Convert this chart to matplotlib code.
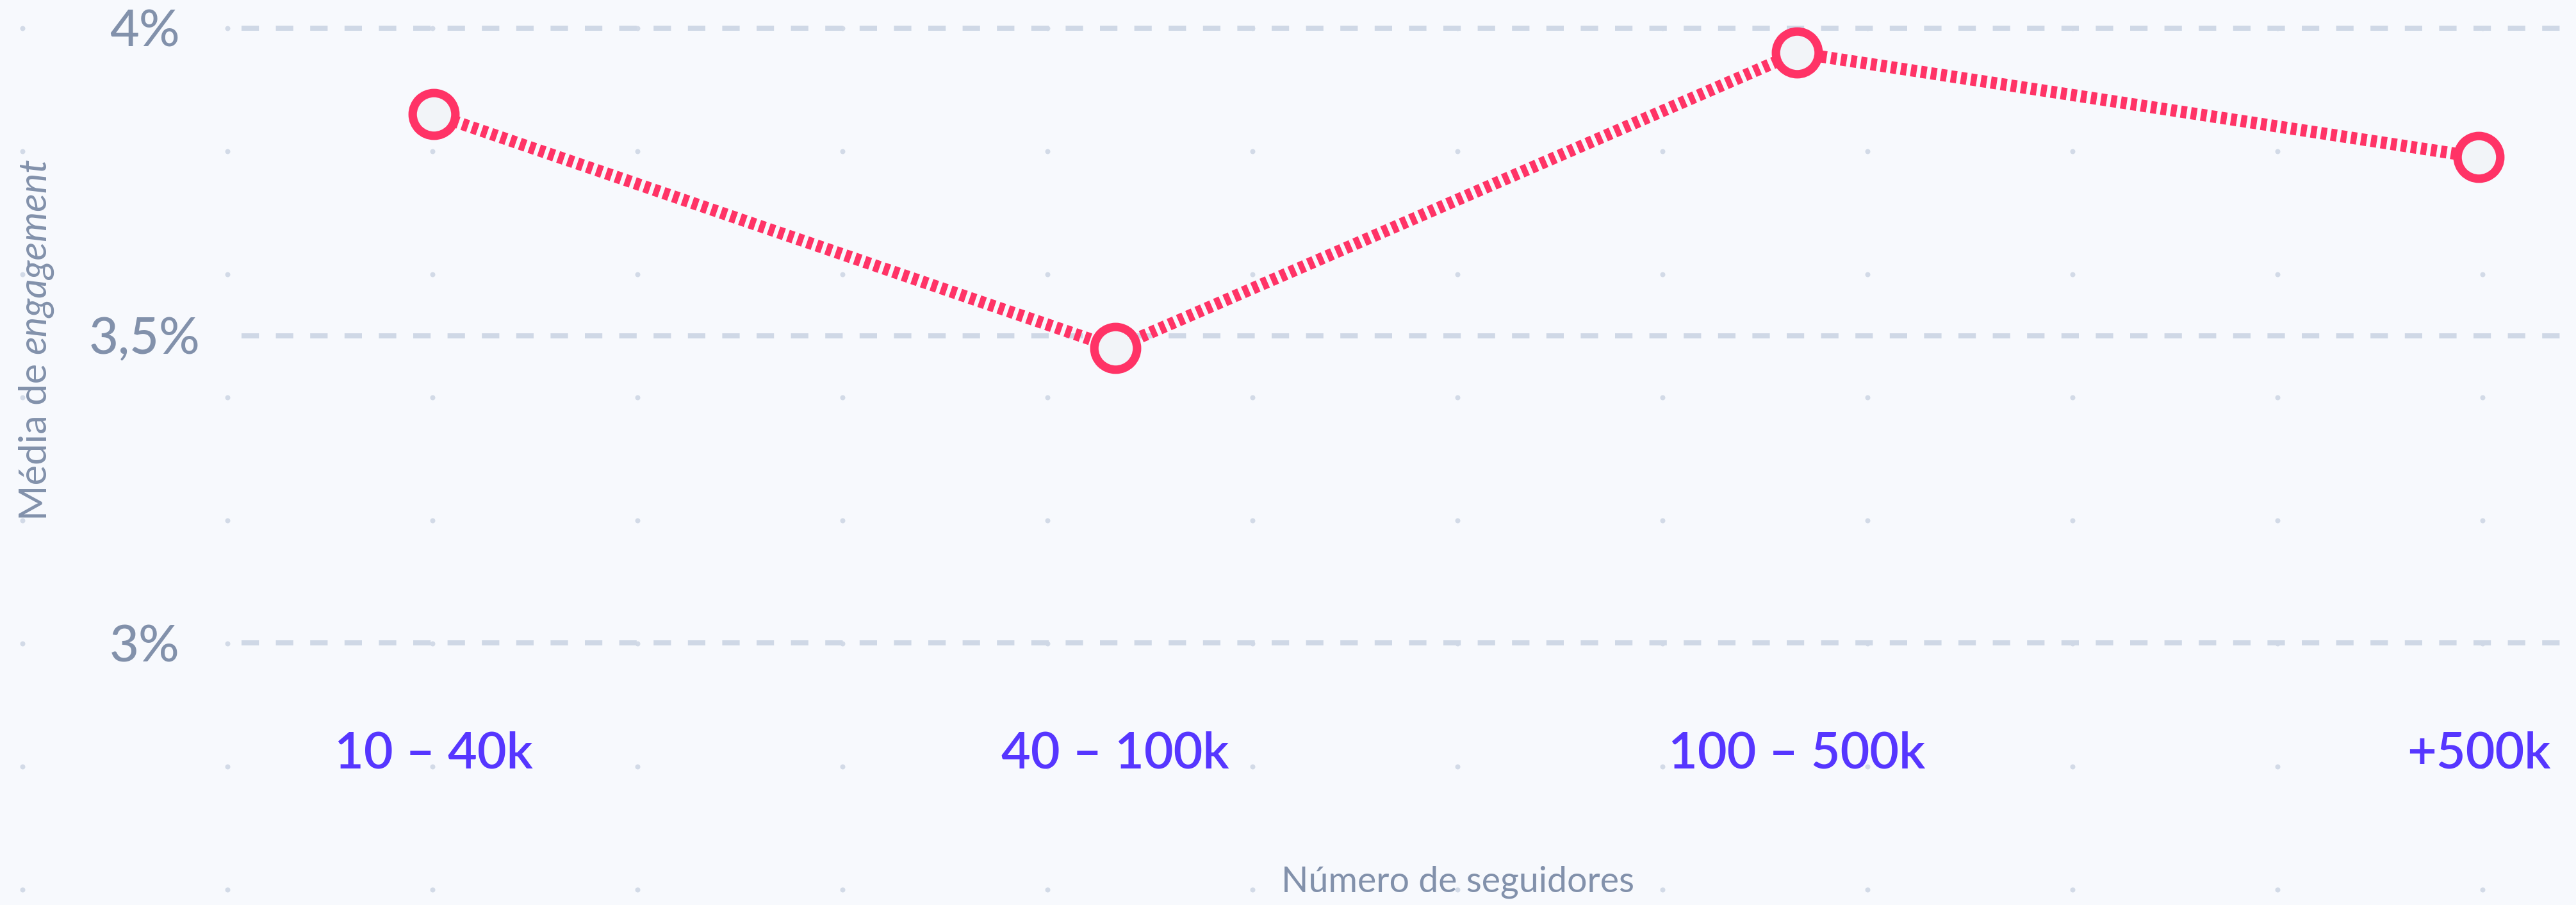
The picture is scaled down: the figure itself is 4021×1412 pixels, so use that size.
import matplotlib.pyplot as plt
import numpy as np

# data
categories = ["10 – 40k", "40 – 100k", "100 – 500k", "+500k"]
engagement = [3.86, 3.48, 3.96, 3.79]
y_ticks = [3.0, 3.5, 4.0]
y_tick_labels = ["3%", "3,5%", "4%"]

W, H, DPI = 4021, 1412, 100
BG = '#f7f9fd'
DOT = '#d2dae7'
GRID = '#cfd8e6'
RED = '#ff3366'
FACE = '#f2f4f8'
PURPLE = '#5636ff'
GRAY = '#8291ab'

plt.rcParams['font.family'] = ['Lato', 'DejaVu Sans']

fig = plt.figure(figsize=(W / DPI, H / DPI), dpi=DPI, facecolor=BG)

# dotted background pattern
bg = fig.add_axes([0, 0, 1, 1], zorder=0)
bg.set_xlim(0, W)
bg.set_ylim(H, 0)
bg.axis('off')
gx, gy = np.meshgrid(np.arange(35, W, 320), np.arange(44, H, 192))
bg.scatter(gx.ravel(), gy.ravel(), s=33, color=DOT, linewidths=0)

ax = fig.add_axes([377 / W, 312 / H, 1 - 377 / W, 1100 / H], zorder=1)
ax.set_facecolor('none')
x = np.arange(len(categories))
ax.plot(x, engagement, color=RED, lw=13.7, linestyle=(0, (0.49, 0.34)),
        dash_capstyle='butt', zorder=3, clip_on=False)
ax.plot(x, engagement, linestyle='none', marker='o', ms=48, mew=9.5,
        mec=RED, mfc=FACE, zorder=4, clip_on=False)

ax.set_xlim(-300 / 1064, 3 + 152 / 1064)
ax.set_ylim(3 - 97 / 959.5, 4 + 44 / 959.5)
ax.set_xticks(x, categories)
ax.set_yticks(y_ticks, y_tick_labels)
ax.tick_params(length=0)
ax.tick_params(axis='x', pad=29.5, labelsize=57, labelcolor=PURPLE)
ax.tick_params(axis='y', pad=108.7, labelsize=57, labelcolor=GRAY)
for lab in ax.get_yticklabels():
    lab.set_ha('center')
    lab.set_fontweight('medium')
for lab in ax.get_xticklabels():
    lab.set_fontweight('semibold')
ax.yaxis.grid(True, color=GRID, lw=5.76, linestyle=(0, (3.4, 3.3)))
ax.xaxis.grid(False)
for s in ax.spines.values():
    s.set_visible(False)

# axis titles, "engagement" set in italic right after "Média de "
t1 = fig.text(56 / W, 1 - 812 / H, "Média de ", rotation=90, ha='center',
              va='bottom', fontsize=43, color=GRAY)
ax.annotate("engagement", xy=(0.5, 1.0), xycoords=t1, rotation=90,
            ha='center', va='bottom', fontsize=43, color=GRAY, style='italic')
fig.text(2276 / W, 1 - 1392 / H, "Número de seguidores", ha='center',
         va='baseline', fontsize=40, color=GRAY)

fig.savefig('out.png', dpi=DPI, facecolor=BG)
